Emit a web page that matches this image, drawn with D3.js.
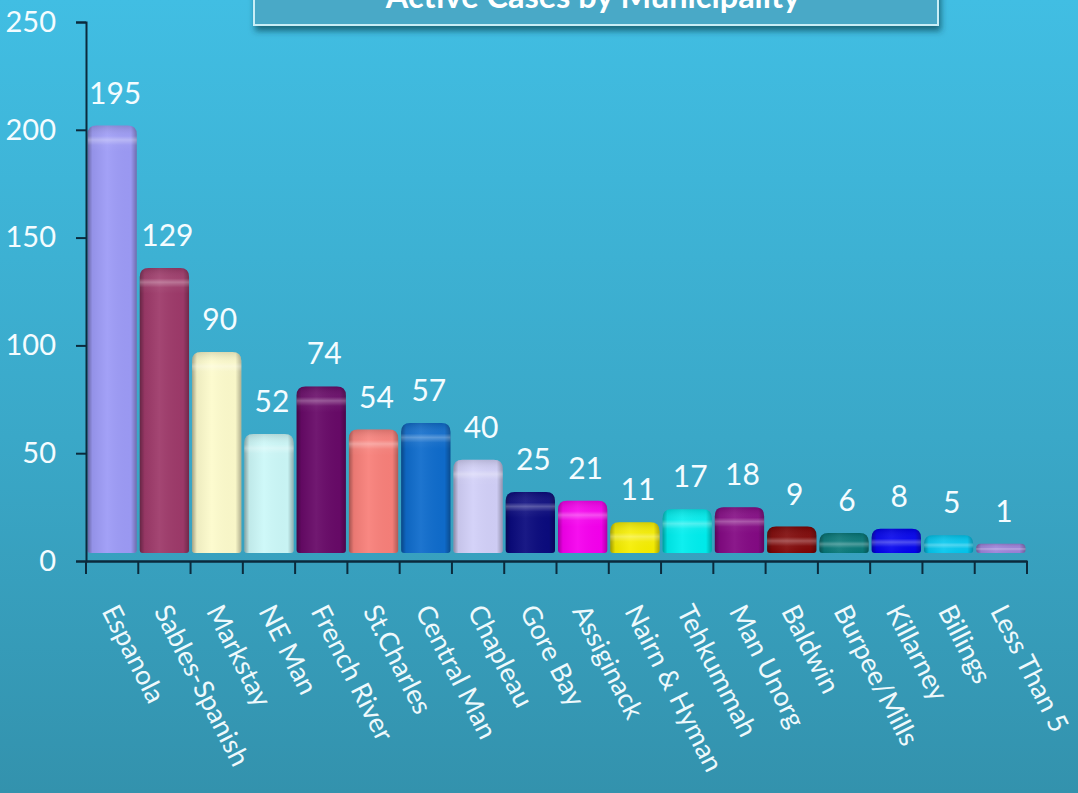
<!DOCTYPE html>
<html>
<head>
<meta charset="utf-8">
<script src="https://cdn.jsdelivr.net/npm/d3@7"></script>
<style>
html, body { margin: 0; padding: 0; overflow: hidden; }
text { font-family: Lato, "Open Sans", sans-serif; }
</style>
</head>
<body>
<div class="chart"></div>
<script>
var municipalities = ["Espanola", "Sables-Spanish", "Markstay", "NE Man", "French River",
  "St.Charles", "Central Man", "Chapleau", "Gore Bay", "Assiginack", "Nairn & Hyman",
  "Tehkummah", "Man Unorg", "Baldwin", "Burpee/Mills", "Killarney", "Billings", "Less Than 5"];
var activeCases = [195, 129, 90, 52, 74, 54, 57, 40, 25, 21, 11, 17, 18, 9, 6, 8, 5, 1];
var barColors = ["#9d9bf6", "#9e3a6a", "#fdfbcc", "#ccf8f8", "#680a68", "#f8807a", "#0f6ccc",
  "#d2d0f8", "#0b0b7e", "#f600ee", "#f6ee00", "#00eeee", "#840a84", "#7e0404", "#047676",
  "#0000ee", "#00c6ee", "#9b80d8"];
var yTicks = [0, 50, 100, 150, 200, 250];
var chartTitle = "Active Cases by Municipality";

var width = 1078, height = 793;
var margin = {top: 22, left: 86, right: 51, bottom: 232};
var depth = 8;      // floor is lifted a little above the axis (3D look)
var capLift = 7;    // bar tops sit a bit above the value line

var svg = d3.select(".chart").append("svg")
    .attr("width", width)
    .attr("height", height);

var defs = svg.append("defs");

var bg = defs.append("linearGradient").attr("id", "bg")
    .attr("x1", 0).attr("y1", 0).attr("x2", 0).attr("y2", 1);
bg.append("stop").attr("offset", 0).attr("stop-color", "#41bee3");
bg.append("stop").attr("offset", 0.55).attr("stop-color", "#3aa8c8");
bg.append("stop").attr("offset", 1).attr("stop-color", "#3392ad");

var shade = defs.append("linearGradient").attr("id", "shade");
shade.append("stop").attr("offset", 0).attr("stop-color", "#000").attr("stop-opacity", 0.35);
shade.append("stop").attr("offset", 0.1).attr("stop-color", "#000").attr("stop-opacity", 0.06);
shade.append("stop").attr("offset", 0.4).attr("stop-color", "#fff").attr("stop-opacity", 0.06);
shade.append("stop").attr("offset", 0.88).attr("stop-color", "#000").attr("stop-opacity", 0.02);
shade.append("stop").attr("offset", 1).attr("stop-color", "#000").attr("stop-opacity", 0.3);

var cap = defs.append("linearGradient").attr("id", "cap")
    .attr("x1", 0).attr("y1", 0).attr("x2", 0).attr("y2", 1);
cap.append("stop").attr("offset", 0).attr("stop-color", "#000").attr("stop-opacity", 0.12);
cap.append("stop").attr("offset", 0.4).attr("stop-color", "#fff").attr("stop-opacity", 0.05);
cap.append("stop").attr("offset", 0.55).attr("stop-color", "#fff").attr("stop-opacity", 0.3);
cap.append("stop").attr("offset", 0.75).attr("stop-color", "#fff").attr("stop-opacity", 0.04);
cap.append("stop").attr("offset", 1).attr("stop-color", "#fff").attr("stop-opacity", 0);

var shadow = defs.append("filter").attr("id", "shadow")
    .attr("x", "-5%").attr("y", "-50%").attr("width", "110%").attr("height", "220%");
shadow.append("feDropShadow").attr("dx", 2).attr("dy", 5).attr("stdDeviation", 3)
    .attr("flood-color", "#06303e").attr("flood-opacity", 0.6);

svg.append("rect")
    .attr("width", width).attr("height", height)
    .attr("fill", "url(#bg)");

// title box, cut off by the top of the picture
var titleBox = svg.append("g").attr("filter", "url(#shadow)");
titleBox.append("rect")
    .attr("x", 254).attr("y", -30)
    .attr("width", 684).attr("height", 55)
    .attr("fill", "#4aa9c7")
    .attr("stroke", "#c9eef6")
    .attr("stroke-width", 2);
svg.append("text")
    .attr("x", 593).attr("y", 8)
    .attr("text-anchor", "middle")
    .attr("fill", "#ffffff")
    .attr("font-size", 32.5)
    .attr("font-weight", "bold")
    .text(chartTitle);

var x = d3.scaleBand()
    .domain(municipalities)
    .range([margin.left, width - margin.right])
    .padding(0);

var y = d3.scaleLinear()
    .domain([0, 250])
    .range([height - margin.bottom, margin.top]);

function barPath(x0, x1, top, bottom) {
  var h = bottom - top;
  var r = Math.min(9, h / 2, (x1 - x0) / 2);
  var rb = Math.min(3, h / 2);
  return "M" + x0 + "," + (bottom - rb) +
    " L" + x0 + "," + (top + r) +
    " Q" + x0 + "," + top + " " + (x0 + r) + "," + top +
    " L" + (x1 - r) + "," + top +
    " Q" + x1 + "," + top + " " + x1 + "," + (top + r) +
    " L" + x1 + "," + (bottom - rb) +
    " Q" + x1 + "," + bottom + " " + (x1 - rb) + "," + bottom +
    " L" + (x0 + rb) + "," + bottom +
    " Q" + x0 + "," + bottom + " " + x0 + "," + (bottom - rb) + " Z";
}

var data = municipalities.map(function(m, i) {
  return {name: m, value: activeCases[i], color: barColors[i]};
});

function bx0(d) { return x(d.name) + 1.5; }
function bx1(d) { return x(d.name) + x.bandwidth() - 1.5; }
function btop(d) { return y(d.value) - depth - capLift; }
function bbottom() { return y(0) - depth; }

var bars = svg.append("g").attr("class", "bars")
    .selectAll("g")
    .data(data)
    .enter().append("g");

bars.append("path")
    .attr("d", function(d) { return barPath(bx0(d), bx1(d), btop(d), bbottom()); })
    .attr("fill", function(d) { return d.color; });

bars.append("path")
    .attr("d", function(d) { return barPath(bx0(d), bx1(d), btop(d), bbottom()); })
    .attr("fill", "url(#shade)");

bars.append("path")
    .attr("d", function(d) {
      var t = btop(d);
      var b = Math.min(bbottom(), t + 26);
      return barPath(bx0(d), bx1(d), t, b);
    })
    .attr("fill", "url(#cap)");

// value labels
svg.append("g").attr("class", "values")
    .selectAll("text")
    .data(data)
    .enter().append("text")
    .attr("x", function(d) { return x(d.name) + x.bandwidth() / 2 + 3; })
    .attr("y", function(d) { return y(d.value) - 37; })
    .attr("text-anchor", "middle")
    .attr("fill", "#f4fcff")
    .attr("font-size", 30)
    .text(function(d) { return d.value; });

// y axis
var yAxis = svg.append("g")
    .attr("transform", "translate(" + margin.left + ",0)")
    .call(d3.axisLeft(y).tickValues(yTicks).tickSize(10).tickPadding(20));
yAxis.select(".domain").attr("stroke", "#0b2a3c").attr("stroke-width", 2);
yAxis.selectAll(".tick line").attr("stroke", "#0b2a3c").attr("stroke-width", 2);
yAxis.selectAll(".tick text")
    .attr("fill", "#f4fcff")
    .attr("font-size", 29)
    .attr("font-family", "Lato, 'Open Sans', sans-serif");

// x axis: line plus ticks at the band edges
var xAxis = svg.append("g")
    .attr("transform", "translate(0," + y(0) + ")")
    .call(d3.axisBottom(x).tickSize(0).tickFormat(""));
xAxis.select(".domain").attr("stroke", "#0b2a3c").attr("stroke-width", 2.5);

var edges = municipalities.map(function(m) { return x(m); }).concat([x.range()[1]]);
xAxis.selectAll(".edge")
    .data(edges)
    .enter().append("line")
    .attr("class", "edge")
    .attr("x1", function(d) { return d; })
    .attr("x2", function(d) { return d; })
    .attr("y1", 0).attr("y2", 13)
    .attr("stroke", "#0b2a3c").attr("stroke-width", 2);

svg.append("g").attr("class", "xlabels")
    .selectAll("text")
    .data(municipalities)
    .enter().append("text")
    .attr("transform", function(d) {
      return "translate(" + (x(d) + x.bandwidth() / 2 - 11) + "," + (y(0) + 50) + ") rotate(63)";
    })
    .attr("text-anchor", "start")
    .attr("fill", "#eef9fc")
    .attr("font-size", 27)
    .text(function(d) { return d; });
</script>
</body>
</html>
